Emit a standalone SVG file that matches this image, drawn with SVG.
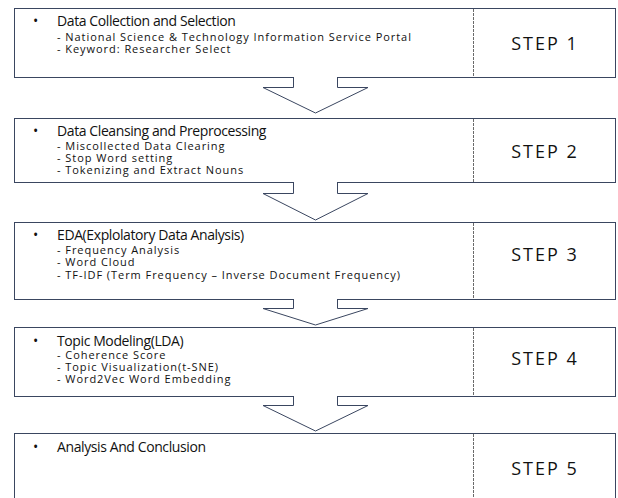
<svg xmlns="http://www.w3.org/2000/svg" width="618" height="498" viewBox="0 0 618 498">
  <style>
    .box { fill: #ffffff; stroke: #3a4660; stroke-width: 1; }
    .div { stroke: #6a6a6a; stroke-width: 1; stroke-dasharray: 3 1; }
    .arr { fill: none; stroke: #3a4660; stroke-width: 1; stroke-linejoin: miter; }
    .cover { fill: #ffffff; stroke: none; }
    .title { font-family: "Open Sans", "Noto Sans", sans-serif; font-size: 14px; letter-spacing: -0.4px; fill: #111; }
    .sub { font-family: "Open Sans", "Noto Sans", sans-serif; font-size: 11px; letter-spacing: 0.95px; fill: #111; }
    .step { font-family: "Open Sans", "Noto Sans", sans-serif; font-size: 18px; letter-spacing: 2px; fill: #111; text-anchor: middle; dominant-baseline: central; }
  </style>
  <rect width="618" height="498" fill="#ffffff"/>

  <g id="step1">
    <rect class="box" x="14.5" y="8.5" width="601" height="69"/>
    <line class="div" x1="473.5" y1="9" x2="473.5" y2="77"/>
    <text class="title" x="33" y="26">•</text>
    <text class="title" x="57" y="26">Data Collection and Selection</text>
    <text class="sub" x="57" y="41">- National Science &amp; Technology Information Service Portal</text>
    <text class="sub" x="57" y="53">- Keyword: Researcher Select</text>
    <text class="step" x="545" y="43">STEP 1</text>
  </g>

  <g id="step2">
    <rect class="box" x="14.5" y="118.5" width="601" height="64"/>
    <line class="div" x1="473.5" y1="119" x2="473.5" y2="182"/>
    <text class="title" x="33" y="136">•</text>
    <text class="title" x="57" y="136">Data Cleansing and Preprocessing</text>
    <text class="sub" x="57" y="150">- Miscollected Data Clearing</text>
    <text class="sub" x="57" y="162">- Stop Word setting</text>
    <text class="sub" x="57" y="174">- Tokenizing and Extract Nouns</text>
    <text class="step" x="545" y="151">STEP 2</text>
  </g>

  <g id="step3">
    <rect class="box" x="14.5" y="222.5" width="601" height="77"/>
    <line class="div" x1="473.5" y1="223" x2="473.5" y2="299"/>
    <text class="title" x="33" y="240">•</text>
    <text class="title" x="57" y="240">EDA(Explolatory Data Analysis)</text>
    <text class="sub" x="57" y="254">- Frequency Analysis</text>
    <text class="sub" x="57" y="266">- Word Cloud</text>
    <text class="sub" x="57" y="279">- TF-IDF (Term Frequency – Inverse Document Frequency)</text>
    <text class="step" x="545" y="254">STEP 3</text>
  </g>

  <g id="step4">
    <rect class="box" x="14.5" y="327.5" width="601" height="69"/>
    <line class="div" x1="473.5" y1="328" x2="473.5" y2="396"/>
    <text class="title" x="33" y="346">•</text>
    <text class="title" x="57" y="346">Topic Modeling(LDA)</text>
    <text class="sub" x="57" y="359">- Coherence Score</text>
    <text class="sub" x="57" y="371">- Topic Visualization(t-SNE)</text>
    <text class="sub" x="57" y="383">- Word2Vec Word Embedding</text>
    <text class="step" x="545" y="358">STEP 4</text>
  </g>

  <g id="step5">
    <rect class="box" x="14.5" y="433.5" width="601" height="80"/>
    <line class="div" x1="473.5" y1="434" x2="473.5" y2="498"/>
    <text class="title" x="33" y="452">•</text>
    <text class="title" x="57" y="452">Analysis And Conclusion</text>
    <text class="step" x="545" y="468">STEP 5</text>
  </g>

  <g id="connectors">
    <g id="arrow1">
      <rect class="cover" x="294" y="75" width="43" height="4"/>
      <path class="arr" d="M293.5,77 V87.5 H263 L315.5,113 L368,87.5 H337.5 V77"/>
    </g>
    <g id="arrow2">
      <rect class="cover" x="294" y="181" width="43" height="4"/>
      <path class="arr" d="M293.5,183 V193.5 H263 L315.5,220 L368,193.5 H337.5 V183"/>
    </g>
    <g id="arrow3">
      <rect class="cover" x="294" y="297" width="43" height="4"/>
      <path class="arr" d="M293.5,299.5 V308.5 H263 L315.5,325 L368,308.5 H337.5 V299.5"/>
    </g>
    <g id="arrow4">
      <rect class="cover" x="294" y="395" width="43" height="4"/>
      <path class="arr" d="M293.5,397 V405.5 H263 L315.5,431 L368,405.5 H337.5 V397"/>
    </g>
  </g>
</svg>
